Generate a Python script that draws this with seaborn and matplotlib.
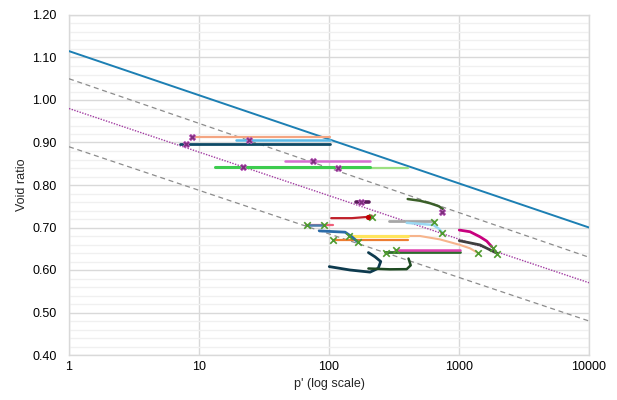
import matplotlib
matplotlib.use("Agg")
import matplotlib.pyplot as plt
import seaborn as sns
import pandas as pd
from matplotlib.ticker import FixedLocator, MultipleLocator, FuncFormatter, NullLocator

# ---------------- data ----------------
ref_p = [1, 10000]
ncl_e = [1.115, 0.700]
upper_e = [1.050, 0.630]
csl_e = [0.980, 0.570]
lower_e = [0.890, 0.480]

salmon_top_p = [8.9, 102];  salmon_top_e = [0.913, 0.913]
ltblue_top_p = [19.3, 102]; ltblue_top_e = [0.907, 0.907]
navy_top_p = [7.1, 102];    navy_top_e = [0.897, 0.897]
orchid_p = [46, 207];       orchid_e = [0.856, 0.856]
green_p = [13.3, 207];      green_e = [0.842, 0.842]
ltgreen_p = [24.6, 405];    ltgreen_e = [0.840, 0.840]
dkpurple_p = [161, 175, 190, 203]; dkpurple_e = [0.759, 0.759, 0.759, 0.759]
dkgreen_top_p = [403, 500, 600, 700, 753]; dkgreen_top_e = [0.767, 0.763, 0.757, 0.750, 0.743]
red_p = [104, 150, 200, 213]; red_e = [0.722, 0.722, 0.725, 0.728]
gray_p = [291, 635];        gray_e = [0.716, 0.716]
ltblue_curve_p = [396, 635, 700, 745]; ltblue_curve_e = [0.711, 0.706, 0.697, 0.688]
pink_p = [66.5, 107];       pink_e = [0.705, 0.705]
steel_p = [66.5, 90];       steel_e = [0.705, 0.705]
blue_curve_p = [84.2, 133, 150, 168]; blue_curve_e = [0.692, 0.689, 0.678, 0.665]
yellow_p = [145, 408];      yellow_e = [0.680, 0.680]
orange_p = [107, 408];      orange_e = [0.671, 0.671]
salmon_curve_p = [145, 501, 714, 1018, 1216, 1400]
salmon_curve_e = [0.680, 0.680, 0.672, 0.659, 0.651, 0.640]
dkgreen_mid_p = [270, 1018]; dkgreen_mid_e = [0.643, 0.643]
magenta_p = [322, 1018];    magenta_e = [0.647, 0.647]
magenta_curve_p = [1005, 1216, 1452, 1634, 1785]
magenta_curve_e = [0.694, 0.690, 0.678, 0.668, 0.655]
dkgray_curve_p = [1005, 1452, 1972]; dkgray_curve_e = [0.669, 0.659, 0.639]
navy_loop_p = [100.5, 145, 207, 239, 250, 226, 201]
navy_loop_e = [0.608, 0.600, 0.595, 0.604, 0.620, 0.631, 0.641]
dkgreen_hook_p = [201, 294, 396, 425, 409]
dkgreen_hook_e = [0.6035, 0.6016, 0.602, 0.611, 0.627]

purple_x_p = [8.9, 24.2, 7.9, 75, 21.8, 117, 175, 736]
purple_x_e = [0.913, 0.907, 0.897, 0.856, 0.842, 0.840, 0.759, 0.737]
green_x_p = [67.3, 91.5, 214, 107, 143, 168, 642, 736, 273, 327, 1400, 1815, 1972]
green_x_e = [0.705, 0.705, 0.725, 0.671, 0.681, 0.667, 0.712, 0.688, 0.641, 0.648, 0.640, 0.651, 0.638]
red_dot_p = [200]
red_dot_e = [0.725]

# ---------------- plot ----------------
sns.set_theme(style="white")
plt.rcParams["font.family"] = ["Liberation Sans", "DejaVu Sans"]

fig = plt.figure(figsize=(6.17, 4.0), dpi=100)
ax = fig.add_axes([69/617, 1-355/400, 520/617, 340/400])

def line(p, e, color, lw, ls="-", z=3):
    sns.lineplot(x=p, y=e, ax=ax, color=color, lw=lw, ls=ls, sort=False,
                 estimator=None, zorder=z)

line(ref_p, ncl_e, "#1C7FB3", 1.4)
line(ref_p, upper_e, "#8C8C8C", 0.9, ls=(0, (4, 3)))
line(ref_p, csl_e, "#A23DA2", 1.0, ls=(0, (1, 1)))
line(ref_p, lower_e, "#8C8C8C", 0.9, ls=(0, (4, 3)))

line(salmon_top_p, salmon_top_e, "#F4A582", 1.6)
line(ltblue_top_p, ltblue_top_e, "#5BBAE8", 1.8)
line(navy_top_p, navy_top_e, "#0E4A66", 2.0)
line(orchid_p, orchid_e, "#D66FD0", 1.8)
line(ltgreen_p, ltgreen_e, "#9CE082", 1.6)
line(green_p, green_e, "#3DCC4E", 2.2)
line(dkpurple_p, dkpurple_e, "#5A1A5A", 2.6)
line(dkgreen_top_p, dkgreen_top_e, "#3A5F28", 1.8)
line(red_p, red_e, "#C0202A", 1.6)
line(gray_p, gray_e, "#A6A6A6", 2.0)
line(ltblue_curve_p, ltblue_curve_e, "#9AD8F2", 1.8)
line(pink_p, pink_e, "#F0607A", 1.6)
line(steel_p, steel_e, "#4A7FAE", 1.8)
line(salmon_curve_p, salmon_curve_e, "#F6B48C", 1.5)
line(yellow_p, yellow_e, "#FFE55C", 2.2)
line(orange_p, orange_e, "#ED7D31", 1.6)
line(blue_curve_p, blue_curve_e, "#2A6BA8", 2.0)
line(dkgreen_mid_p, dkgreen_mid_e, "#2E6B2E", 2.0)
line(magenta_p, magenta_e, "#E040B0", 1.8)
line(magenta_curve_p, magenta_curve_e, "#C8007E", 2.0)
line(dkgray_curve_p, dkgray_curve_e, "#3F3F3F", 2.0)
line(navy_loop_p, navy_loop_e, "#0D3A4E", 2.0)
line(dkgreen_hook_p, dkgreen_hook_e, "#1E4A22", 1.8)

sns.scatterplot(x=purple_x_p, y=purple_x_e, ax=ax, marker="X", s=22,
                color="#7B2C7B", edgecolor="#C060C0", linewidth=0.5, zorder=5)
sns.scatterplot(x=green_x_p, y=green_x_e, ax=ax, marker="x", s=22,
                color="#4E9A2E", linewidth=1.2, zorder=5)
sns.scatterplot(x=red_dot_p, y=red_dot_e, ax=ax, marker="o", s=14,
                color="#C00000", linewidth=0, zorder=5)

ax.set_xscale("log")
ax.set_xlim(1, 10000)
ax.set_ylim(0.40, 1.20)
ax.xaxis.set_major_locator(FixedLocator([1, 10, 100, 1000, 10000]))
ax.xaxis.set_minor_locator(NullLocator())
ax.xaxis.set_major_formatter(FuncFormatter(lambda v, _: f"{v:g}"))
ax.yaxis.set_major_locator(MultipleLocator(0.1))
ax.yaxis.set_minor_locator(MultipleLocator(0.02))
ax.yaxis.set_major_formatter(FuncFormatter(lambda v, _: f"{v:.2f}"))

ax.grid(True, which="major", axis="both", color="#D9D9D9", lw=1.0, zorder=0)
ax.grid(True, which="minor", axis="y", color="#F0F0F0", lw=1.0, zorder=0)
ax.set_axisbelow(True)
for s in ax.spines.values():
    s.set_color("#D9D9D9")
    s.set_linewidth(1.0)

ax.tick_params(axis="both", which="both", length=0, labelsize=9, colors="#000000")
ax.tick_params(axis="y", pad=9)
ax.tick_params(axis="x", pad=4)
ax.set_xlabel("p' (log scale)", fontsize=9, labelpad=4)
ax.set_ylabel("Void ratio", fontsize=9, labelpad=3)

fig.savefig("out.png", dpi=100)
